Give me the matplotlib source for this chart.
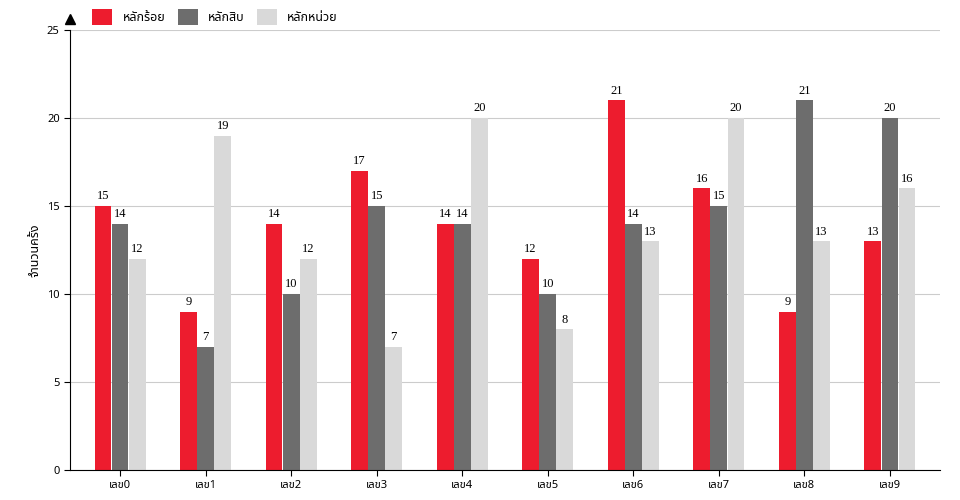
import matplotlib
matplotlib.use("Agg")
import matplotlib.pyplot as plt
import numpy as np

plt.rcParams["font.family"] = ["Noto Sans Thai", "Loma", "Garuda", "Noto Sans", "DejaVu Sans"]

categories = ["เลข0", "เลข1", "เลข2", "เลข3", "เลข4", "เลข5", "เลข6", "เลข7", "เลข8", "เลข9"]
hundreds = [15, 9, 14, 17, 14, 12, 21, 16, 9, 13]
tens = [14, 7, 10, 15, 14, 10, 14, 15, 21, 20]
units = [12, 19, 12, 7, 20, 8, 13, 20, 13, 16]
series = [("หลักร้อย", hundreds, "#ed1c2e"),
          ("หลักสิบ", tens, "#6d6d6d"),
          ("หลักหน่วย", units, "#d9d9d9")]

fig = plt.figure(figsize=(9.6, 5.0), dpi=100)
ax = fig.add_axes([70 / 960, 30 / 500, 870 / 960, 440 / 500])

x = np.arange(len(categories))
w = 0.2
for i, (name, vals, color) in enumerate(series):
    pos = x + (i - 1) * w
    ax.bar(pos, vals, w * 0.98, color=color, label=name, zorder=2)
    for p, v in zip(pos, vals):
        ax.text(p, v + 0.2, str(v), ha="center", va="bottom", fontsize=9,
                family="Liberation Serif")

ax.set_xlim(-0.585, len(categories) - 1 + 0.585)
ax.set_ylim(0, 25)
ax.set_yticks([0, 5, 10, 15, 20, 25])
ax.set_xticks(x)
ax.set_xticklabels(categories, fontsize=8)
ax.tick_params(axis="y", labelsize=8, length=4)
ax.tick_params(axis="x", length=4)
ax.grid(axis="y", color="#cccccc", linewidth=0.8, zorder=0)
for s in ["top", "right"]:
    ax.spines[s].set_visible(False)
ax.set_ylabel("จำนวนครั้ง", fontsize=9)
ax.plot([-0.585], [25.6], marker="^", color="black", markersize=7, clip_on=False)
ax.legend(loc="lower left", bbox_to_anchor=(0.02, 1.0), ncol=3, frameon=False,
          fontsize=9, handlelength=1.6, handleheight=1.6, columnspacing=1.0,
          borderaxespad=0)

fig.savefig("out.png", dpi=100)
